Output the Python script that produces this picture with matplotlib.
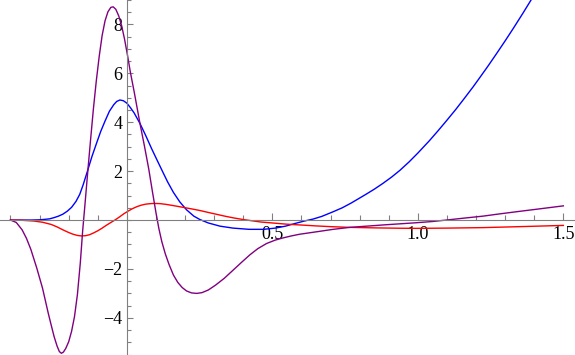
import matplotlib
matplotlib.use('Agg')
import matplotlib.pyplot as plt
import numpy as np

# values
blue_x = [-0.400, -0.330, -0.300, -0.280, -0.265, -0.250, -0.235, -0.220, -0.205, -0.190,
          -0.175, -0.162, -0.150, -0.136, -0.120, -0.104, -0.090, -0.075, -0.060, -0.045,
          -0.035, -0.024, -0.012, 0.000, 0.012, 0.025, 0.045, 0.065, 0.085, 0.105,
          0.122, 0.140, 0.160, 0.182, 0.205, 0.230, 0.251, 0.280, 0.320, 0.365,
          0.420, 0.470, 0.510, 0.545, 0.575, 0.610, 0.640, 0.670, 0.709, 0.740,
          0.770, 0.800, 0.824, 0.850, 0.880, 0.910, 0.938, 0.970, 1.000, 1.040,
          1.070, 1.099, 1.130, 1.160, 1.190, 1.213, 1.240, 1.270, 1.300, 1.328,
          1.360, 1.390, 1.420, 1.450]
blue_y = [0.00, 0.00, 0.01, 0.03, 0.05, 0.10, 0.16, 0.24, 0.36, 0.52,
          0.76, 1.05, 1.45, 1.98, 2.60, 3.15, 3.62, 4.05, 4.45, 4.72,
          4.85, 4.91, 4.88, 4.78, 4.60, 4.38, 3.95, 3.45, 2.92, 2.42,
          2.00, 1.56, 1.13, 0.74, 0.42, 0.16, 0.02, -0.12, -0.25, -0.33,
          -0.38, -0.38, -0.33, -0.25, -0.15, -0.04, 0.04, 0.15, 0.34, 0.50,
          0.69, 0.90, 1.07, 1.26, 1.50, 1.76, 2.03, 2.38, 2.74, 3.25,
          3.66, 4.07, 4.52, 4.98, 5.45, 5.83, 6.28, 6.80, 7.33, 7.84,
          8.44, 9.02, 9.61, 10.22]

red_x = [-0.400, -0.360, -0.320, -0.290, -0.260, -0.240, -0.220, -0.200, -0.185, -0.170,
         -0.156, -0.142, -0.128, -0.115, -0.100, -0.085, -0.070, -0.055, -0.041, -0.025,
         -0.010, 0.005, 0.020, 0.035, 0.050, 0.065, 0.080, 0.096, 0.115, 0.135,
         0.160, 0.193, 0.225, 0.251, 0.280, 0.310, 0.340, 0.370, 0.400, 0.430,
         0.460, 0.500, 0.550, 0.594, 0.650, 0.700, 0.766, 0.850, 0.938, 0.995,
         1.100, 1.224, 1.350, 1.500]
red_y = [0.00, -0.01, -0.04, -0.09, -0.18, -0.28, -0.40, -0.51, -0.58, -0.63,
         -0.65, -0.64, -0.60, -0.53, -0.44, -0.33, -0.21, -0.10, 0.00, 0.13,
         0.26, 0.37, 0.47, 0.55, 0.61, 0.65, 0.67, 0.68, 0.67, 0.64,
         0.59, 0.52, 0.45, 0.39, 0.31, 0.23, 0.15, 0.08, 0.02, -0.03,
         -0.08, -0.12, -0.17, -0.20, -0.24, -0.27, -0.30, -0.32, -0.335, -0.34,
         -0.33, -0.31, -0.27, -0.22]

purple_x = [-0.400, -0.380, -0.360, -0.345, -0.330, -0.310, -0.290, -0.280, -0.270, -0.260,
            -0.250, -0.240, -0.232, -0.225, -0.218, -0.210, -0.200, -0.190, -0.180, -0.170,
            -0.160, -0.152, -0.145, -0.135, -0.125, -0.115, -0.105, -0.095, -0.085, -0.075,
            -0.065, -0.055, -0.047, -0.038, -0.028, -0.018, -0.008, 0.002, 0.012, 0.025,
            0.035, 0.045, 0.060, 0.075, 0.088, 0.100, 0.110, 0.120, 0.132, 0.145,
            0.160, 0.175, 0.190, 0.205, 0.222, 0.240, 0.258, 0.280, 0.305, 0.335,
            0.365, 0.395, 0.423, 0.450, 0.480, 0.510, 0.537, 0.565, 0.594, 0.652,
            0.709, 0.766, 0.824, 0.881, 0.938, 0.995, 1.050, 1.098, 1.160, 1.224,
            1.280, 1.339, 1.420, 1.500]
purple_y = [0.00, -0.10, -0.40, -0.75, -1.20, -1.95, -2.78, -3.30, -3.82, -4.30,
            -4.77, -5.15, -5.38, -5.45, -5.40, -5.25, -4.98, -4.55, -3.95, -3.05,
            -1.75, -0.45, 0.50, 1.90, 3.25, 4.55, 5.70, 6.70, 7.55, 8.15,
            8.52, 8.70, 8.72, 8.62, 8.35, 7.95, 7.40, 6.75, 6.05, 5.25,
            4.60, 3.95, 3.05, 2.10, 1.15, 0.30, -0.35, -0.88, -1.38, -1.82,
            -2.25, -2.55, -2.76, -2.90, -2.98, -3.00, -2.97, -2.86, -2.66, -2.38,
            -2.05, -1.72, -1.42, -1.17, -0.96, -0.82, -0.73, -0.65, -0.58, -0.48,
            -0.38, -0.30, -0.25, -0.20, -0.155, -0.11, -0.06, 0.00, 0.08, 0.16,
            0.25, 0.34, 0.46, 0.58]

x_major = [0.5, 1.0, 1.5]
y_major = [-4, -2, 2, 4, 6, 8]

grey = '#808080'

plt.rcParams['font.family'] = ['Liberation Serif', 'DejaVu Serif']

fig = plt.figure(figsize=(5.75, 3.55), dpi=100)
ax = fig.add_axes([0, 0, 1, 1])
ax.patch.set_alpha(0)

ax.plot(blue_x, blue_y, color='#0000ff', lw=1.0)
ax.plot(red_x, red_y, color='#ff0000', lw=1.0)
ax.plot(purple_x, purple_y, color='#800080', lw=1.0)

ax.set_xlim(-0.436, 1.540)
ax.set_ylim(-5.52, 9.0)

# axes through the origin, like Mathematica
ax.spines['left'].set_position(('data', 0))
ax.spines['bottom'].set_position(('data', 0))
ax.spines['top'].set_visible(False)
ax.spines['right'].set_visible(False)
for s in ['left', 'bottom']:
    ax.spines[s].set_color(grey)
    ax.spines[s].set_linewidth(0.8)

ax.set_xticks(x_major)
ax.set_xticklabels(['%.1f' % v for v in x_major])
ax.set_xticks(np.arange(-0.4, 1.55, 0.1), minor=True)
ax.set_yticks(y_major)
ax.set_yticklabels(['\u2212%d' % -v if v < 0 else '%d' % v for v in y_major])
ax.set_yticks(np.arange(-5.5, 9.01, 0.5), minor=True)

ax.tick_params(which='both', direction='in', color=grey, width=0.8,
               labelsize=13, labelcolor='black')
ax.tick_params(axis='x', which='major', length=5, pad=4)
ax.tick_params(axis='x', which='minor', length=3.3)
ax.tick_params(axis='y', which='major', length=4.2, pad=3)
ax.tick_params(axis='y', which='minor', length=2.8)

fig.savefig('out.png', dpi=100)
